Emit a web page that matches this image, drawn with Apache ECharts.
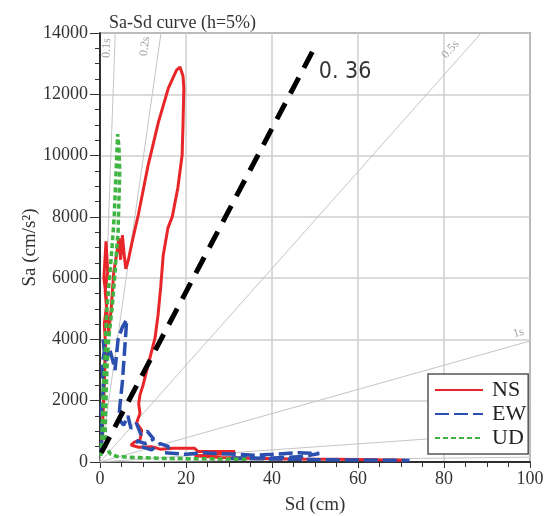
<!DOCTYPE html>
<html>
<head>
<meta charset="utf-8">
<script src="https://cdn.jsdelivr.net/npm/echarts@6/dist/echarts.min.js"></script>
<style>
html,body{margin:0;padding:0;background:#fff;}
#sasd{width:554px;height:516px;}
</style>
</head>
<body>
<div id="sasd"></div>
<script>
// spectra: [Sd (cm), Sa (cm/s2)]
var NS = [[0.2,300],[0.6,1200],[1.0,2500],[1.3,3800],[1.0,4500],[1.6,5200],[0.9,6000],[1.4,7200],[1.8,6200],[1.2,5600],[2.0,4200],[2.6,5000],[3.2,6200],[4.0,6900],[4.4,7300],[4.8,6600],[5.2,7400],[5.6,6800],[6.0,6300],[6.6,6600],[7.5,7200],[8.9,8060],[11.2,9690],[13.6,11100],[15.9,12200],[17.8,12790],[18.6,12890],[19.3,12600],[19.5,12200],[19.3,11000],[19.1,10020],[18.1,8940],[16.8,8000],[15.8,7640],[14.7,6750],[14.1,5680],[13.5,4800],[12.8,4050],[11.2,3170],[10.0,2500],[9.3,2190],[9.0,1900],[9.3,1590],[8.5,1270],[9.7,1040],[9.3,720],[8.0,650],[7.2,550],[9,480],[12,500],[14,420],[17,450],[22,450],[22.8,340],[31.4,340],[30,280],[22,200],[28,150],[35,120],[45,100],[55,90],[65,70],[71,60]];
var EW = [[0.2,250],[0.5,900],[0.3,1800],[0.8,2400],[0.5,3200],[1.0,3600],[0.7,4000],[1.5,3300],[2.2,3700],[2.8,3400],[3.5,3000],[4.2,4000],[5.2,4400],[6.2,4650],[6.0,4200],[5.6,3400],[5.2,2600],[4.6,1800],[4.4,1400],[5.5,1200],[6.5,1500],[7.2,1100],[8.5,1250],[9.5,900],[11,1000],[12.5,750],[10.5,600],[8.5,700],[9.5,500],[12,400],[14,600],[16,500],[15,300],[20,250],[24,300],[30,260],[36,220],[40,250],[46,300],[51,280],[47,180],[40,130],[30,120],[45,90],[55,70],[65,60],[72,50]];
var UD = [[0.2,200],[0.5,1000],[0.8,2500],[1.2,3500],[1.5,4800],[2.2,6000],[2.8,7000],[3.3,8000],[3.6,9000],[3.9,10000],[4.1,10700],[4.4,10300],[4.6,9500],[4.4,8500],[4.2,7500],[3.8,6800],[3.4,6000],[2.8,5000],[2.0,4000],[1.6,3000],[1.4,2000],[1.2,1000],[1.3,500],[2.5,250],[4,180],[8,150],[14,120],[20,110],[27,100],[34,90]];
var line036 = [[0.3,300],[50,13550]];
var label036 = [57,12730];
var periods = [0.1,0.2,0.5,1,2,5];
var periodNames = ['0.1s','0.2s','0.5s','1s','2s','5s'];
var xTicks = [0,20,40,60,80,100];
var yTicks = [0,2000,4000,6000,8000,10000,12000,14000];

var serif = "'Liberation Serif','DejaVu Serif',serif";
var chart = echarts.init(document.getElementById('sasd'));

function periodEnd(T){
    var w2 = Math.pow(2*Math.PI/T,2);
    if (w2*100 > 14000) return [14000/w2,14000];
    return [100,w2*100];
}

var series = [];
periods.forEach(function(T){
    series.push({
        type:'line', silent:true, symbol:'none',
        data:[[0,0],periodEnd(T)],
        lineStyle:{color:'#c4c4c4',width:1}
    });
});
series.push({name:'NS',type:'line',symbol:'none',data:NS,
    lineStyle:{color:'#e8262a',width:3},itemStyle:{color:'#e8262a'}});
series.push({name:'EW',type:'line',symbol:'none',data:EW,
    lineStyle:{color:'#2a4fae',width:3.5,type:[14,5]},itemStyle:{color:'#2a4fae'}});
series.push({name:'UD',type:'line',symbol:'none',data:UD,
    lineStyle:{color:'#40b440',width:3.5,type:[5,3]},itemStyle:{color:'#40b440'}});
series.push({type:'line',symbol:'none',silent:true,data:line036,
    lineStyle:{color:'#000',width:5,type:[18,11]}});
series.push({type:'scatter',silent:true,symbolSize:0,data:[label036],
    label:{show:true,position:'inside',formatter:'0. 36',color:'#000',fontSize:23,
        fontFamily:"'Liberation Sans Narrow','DejaVu Sans Condensed',sans-serif"}});

var option = {
    animation:false,
    title:{text:'Sa-Sd curve (h=5%)',left:104,top:9,
        textStyle:{fontFamily:serif,fontSize:18,fontWeight:'normal',color:'#333'}},
    legend:{
        data:['NS','EW','UD'],orient:'vertical',left:428,top:374,
        padding:[5,2,5,6],itemGap:2,itemWidth:48,itemHeight:16,
        backgroundColor:'#fff',borderColor:'#555',borderWidth:1.5,borderRadius:0,
        itemStyle:{opacity:0},
        textStyle:{fontFamily:serif,fontSize:22,color:'#222',padding:[0,0,0,4]}
    },
    grid:{left:100,right:24,top:33,bottom:54,outerBoundsMode:'none',
        show:true,borderColor:'#555',borderWidth:1.5},
    xAxis:{
        type:'value',min:xTicks[0],max:xTicks[xTicks.length-1],interval:xTicks[1]-xTicks[0],
        name:'Sd (cm)',nameLocation:'middle',nameGap:34,nameMoveOverlap:false,
        nameTextStyle:{fontFamily:serif,fontSize:19,color:'#333'},
        axisLine:{lineStyle:{color:'#000',width:1.5}},
        axisTick:{length:6,lineStyle:{color:'#333'}},
        minorTick:{show:true,splitNumber:4,length:5,lineStyle:{color:'#333'}},
        splitLine:{lineStyle:{color:'#cfcfcf',width:1.5}},
        axisLabel:{fontFamily:serif,fontSize:18,color:'#333',margin:8}
    },
    yAxis:{
        type:'value',min:yTicks[0],max:yTicks[yTicks.length-1],interval:yTicks[1]-yTicks[0],
        name:'Sa (cm/s²)',nameLocation:'middle',nameGap:60,nameMoveOverlap:false,
        nameTextStyle:{fontFamily:serif,fontSize:19,color:'#333'},
        axisLine:{lineStyle:{color:'#000',width:1.5}},
        axisTick:{length:10,lineStyle:{color:'#333'}},
        minorTick:{show:true,splitNumber:4,length:5,lineStyle:{color:'#333'}},
        splitLine:{lineStyle:{color:'#cfcfcf',width:1.5}},
        axisLabel:{fontFamily:serif,fontSize:18,color:'#333',margin:12,
            formatter:function(v){return String(v);}}
    },
    series:series
};
chart.setOption(option);

// period labels, rotated along their lines
var gaps = [8,14,12,11,10,8];
var labelPts = periods.map(function(T,i){
    var w2 = Math.pow(2*Math.PI/T,2);
    var p0 = chart.convertToPixel({gridIndex:0},[0,0]);
    var p1 = chart.convertToPixel({gridIndex:0},periodEnd(T));
    var ang = Math.atan2(p0[1]-p1[1],p1[0]-p0[0]);
    var anchor;
    if (T < 0.5) anchor = [13500/w2,13500];
    else if (T < 1) anchor = [13200/w2,13200];
    else anchor = [98,98*w2];
    var pa = chart.convertToPixel({gridIndex:0},anchor);
    var pl = [pa[0]-gaps[i]*Math.sin(ang),pa[1]-gaps[i]*Math.cos(ang)];
    return {
        value:chart.convertFromPixel({gridIndex:0},pl),
        label:{rotate:ang*180/Math.PI,formatter:periodNames[i]}
    };
});
option.series.push({
    type:'scatter',silent:true,symbolSize:0,z:1,data:labelPts,
    label:{show:true,position:'inside',color:'#8a8a8a',fontSize:12,fontFamily:serif}
});
chart.setOption(option);
</script>
</body>
</html>
